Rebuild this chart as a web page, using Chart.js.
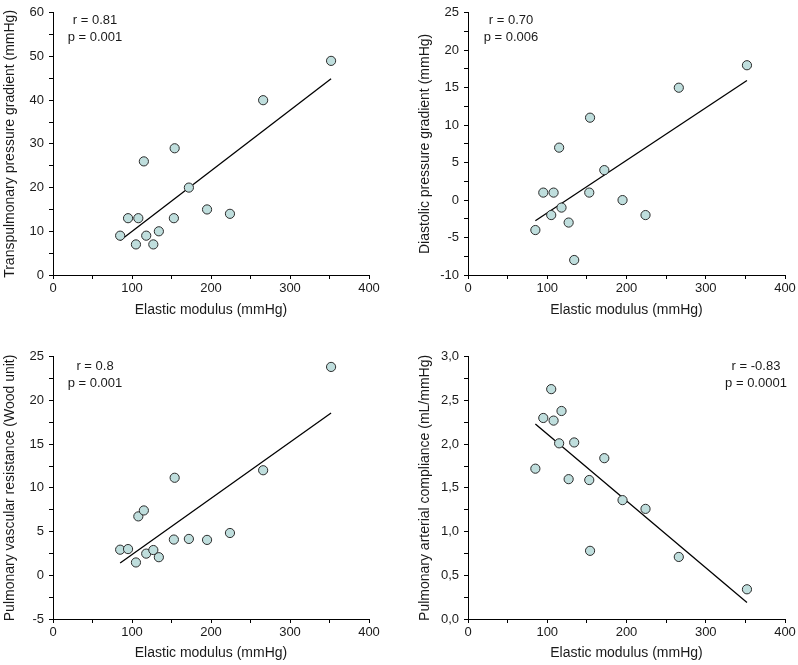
<!DOCTYPE html>
<html>
<head>
<meta charset="utf-8">
<script src="https://cdn.jsdelivr.net/npm/chart.js@4.4.1/dist/chart.umd.min.js"></script>
<style>
  html, body { margin: 0; padding: 0; background: #fff; }
  #wrap { position: relative; width: 798px; height: 665px; overflow: hidden; }
  .panel { position: absolute; }
</style>
</head>
<body>
<div id="wrap">
  <div class="panel" style="left:0;top:0;width:399px;height:320px"><canvas id="c1"></canvas></div>
  <div class="panel" style="left:400px;top:0;width:398px;height:320px"><canvas id="c2"></canvas></div>
  <div class="panel" style="left:0;top:344px;width:399px;height:321px"><canvas id="c3"></canvas></div>
  <div class="panel" style="left:400px;top:344px;width:398px;height:321px"><canvas id="c4"></canvas></div>
</div>
<script>
// Elastic modulus (mmHg) of each patient, same order in every panel
const elasticModulus = [85, 95, 105, 108, 115, 118, 127, 134, 153, 154, 172, 195, 224, 266, 352];

// Y values
const transpulmonaryGradient = [9, 13, 7, 13, 26, 9, 7, 10, 13, 29, 20, 15, 14, 40, 49];
const diastolicGradient = [-4, 1, -2, 1, 7, -1, -3, -8, 1, 11, 4, 0, -2, 15, 18];
const vascularResistance = [2.93, 3.0, 1.47, 6.74, 7.42, 2.48, 2.89, 2.07, 4.09, 11.16, 4.16, 4.05, 4.84, 12.02, 23.84];
const arterialCompliance = [1.72, 2.30, 2.63, 2.27, 2.01, 2.38, 1.60, 2.02, 1.59, 0.78, 1.84, 1.36, 1.26, 0.71, 0.34];

// Regression line end points
const fitX = [85, 352];
const fitTranspulmonary = [7.9, 44.9];
const fitDiastolic = [-2.76, 15.97];
const fitResistance = [1.4, 18.57];
const fitCompliance = [2.23, 0.19];

// Axis ranges and steps
const xAxis = { min: 0, max: 400, step: 50, major: 100 };
const yAxes = [
  { min: 0, max: 60, step: 5, major: 10 },
  { min: -10, max: 25, step: 2.5, major: 5 },
  { min: -5, max: 25, step: 2.5, major: 5 },
  { min: 0, max: 3, step: 0.25, major: 0.5 }
];

// Axis titles and stats text
const xTitle = "Elastic modulus (mmHg)";
const yTitles = [
  "Transpulmonary pressure gradient (mmHg)",
  "Diastolic pressure gradient (mmHg)",
  "Pulmonary vascular resistance (Wood unit)",
  "Pulmonary arterial compliance (mL/mmHg)"
];
const statsText = [
  ["r = 0.81", "p = 0.001"],
  ["r = 0.70", "p = 0.006"],
  ["r = 0.8", "p = 0.001"],
  ["r = -0.83", "p = 0.0001"]
];

const fontFamily = "'Liberation Sans', Arial, sans-serif";
const textColor = "#1a1a1a";

function isMajor(value, major) {
  const r = Math.abs(value / major - Math.round(value / major));
  return r < 1e-6;
}

// plugin to draw the r / p text inside the plot
const statsPlugin = {
  id: "stats",
  afterDraw(chart, args, opts) {
    const ctx = chart.ctx;
    const area = chart.chartArea;
    const x = opts.right ? area.right - opts.dx : area.left + opts.dx;
    ctx.save();
    ctx.font = "13px " + fontFamily;
    ctx.fillStyle = textColor;
    ctx.textAlign = "center";
    ctx.textBaseline = "middle";
    ctx.fillText(opts.lines[0], x, area.top + opts.dy);
    ctx.fillText(opts.lines[1], x, area.top + opts.dy + 17);
    ctx.restore();
  }
};

function makeChart(id, yValues, fitY, yRange, yTitle, lines, opts) {
  const points = elasticModulus.map((x, i) => ({ x: x, y: yValues[i] }));
  const line = fitX.map((x, i) => ({ x: x, y: fitY[i] }));
  const ctx = document.getElementById(id).getContext("2d");
  return new Chart(ctx, {
    type: "scatter",
    data: {
      datasets: [
        {
          type: "line",
          data: line,
          borderColor: "#000",
          borderWidth: 1.3,
          pointRadius: 0,
          fill: false,
          order: 2
        },
        {
          data: points,
          backgroundColor: "#bfdedd",
          borderColor: "#2b2b2b",
          borderWidth: 1,
          pointRadius: 4.6,
          order: 1
        }
      ]
    },
    options: {
      responsive: true,
      maintainAspectRatio: false,
      animation: false,
      events: [],
      layout: { padding: { left: 0, right: opts.padRight, top: 8, bottom: 0 } },
      plugins: {
        legend: { display: false },
        tooltip: { enabled: false },
        stats: { lines: lines, dx: opts.statsDx, dy: opts.statsDy, right: opts.statsRight }
      },
      scales: {
        x: {
          type: "linear",
          min: xAxis.min,
          max: xAxis.max,
          afterFit: (scale) => { scale.height = opts.xHeight; },
          afterBuildTicks: (scale) => {
            const t = [];
            for (let v = xAxis.min; v <= xAxis.max + 1e-9; v += xAxis.step) t.push({ value: v });
            scale.ticks = t;
          },
          ticks: {
            autoSkip: false,
            maxRotation: 0,
            color: textColor,
            padding: 2,
            font: { family: fontFamily, size: 13 },
            callback: (v) => (isMajor(v, xAxis.major) ? String(v) : "")
          },
          grid: { drawOnChartArea: false, drawTicks: true, tickLength: 4, tickColor: "#000" },
          border: { display: true, color: "#000", width: 1 },
          title: {
            display: true,
            text: xTitle,
            color: textColor,
            font: { family: fontFamily, size: 14 },
            padding: { top: 0, bottom: opts.xTitlePad }
          }
        },
        y: {
          type: "linear",
          min: yRange.min,
          max: yRange.max,
          afterFit: (scale) => { scale.width = opts.yWidth; },
          afterBuildTicks: (scale) => {
            const t = [];
            for (let v = yRange.min; v <= yRange.max + 1e-9; v += yRange.step) t.push({ value: v });
            scale.ticks = t;
          },
          ticks: {
            autoSkip: false,
            color: textColor,
            padding: 5,
            font: { family: fontFamily, size: 13 },
            callback: (v) => {
              if (!isMajor(v, yRange.major)) return "";
              return opts.comma ? v.toFixed(1).replace(".", ",") : String(v);
            }
          },
          grid: { drawOnChartArea: false, drawTicks: true, tickLength: 4, tickColor: "#000" },
          border: { display: true, color: "#000", width: 1 },
          title: {
            display: true,
            text: yTitle,
            color: textColor,
            font: { family: fontFamily, size: 14 },
            padding: { top: opts.yTitlePad, bottom: 0 }
          }
        }
      }
    },
    plugins: [statsPlugin]
  });
}

makeChart("c1", transpulmonaryGradient, fitTranspulmonary, yAxes[0], yTitles[0], statsText[0],
  { padRight: 30, yWidth: 53, xHeight: 45, xTitlePad: 1.6, yTitlePad: 1.6, statsDx: 42, statsDy: 8 });
makeChart("c2", diastolicGradient, fitDiastolic, yAxes[1], yTitles[1], statsText[1],
  { padRight: 13, yWidth: 68, xHeight: 45, xTitlePad: 1.6, yTitlePad: 16.6, statsDx: 43, statsDy: 8 });
makeChart("c3", vascularResistance, fitResistance, yAxes[2], yTitles[2], statsText[2],
  { padRight: 30, yWidth: 53, xHeight: 46, xTitlePad: 3.6, yTitlePad: 1.6, statsDx: 42, statsDy: 10 });
makeChart("c4", arterialCompliance, fitCompliance, yAxes[3], yTitles[3], statsText[3],
  { padRight: 13, yWidth: 68, xHeight: 46, xTitlePad: 3.6, yTitlePad: 16.6, statsDx: 29, statsDy: 10, statsRight: true, comma: true });
</script>
</body>
</html>
